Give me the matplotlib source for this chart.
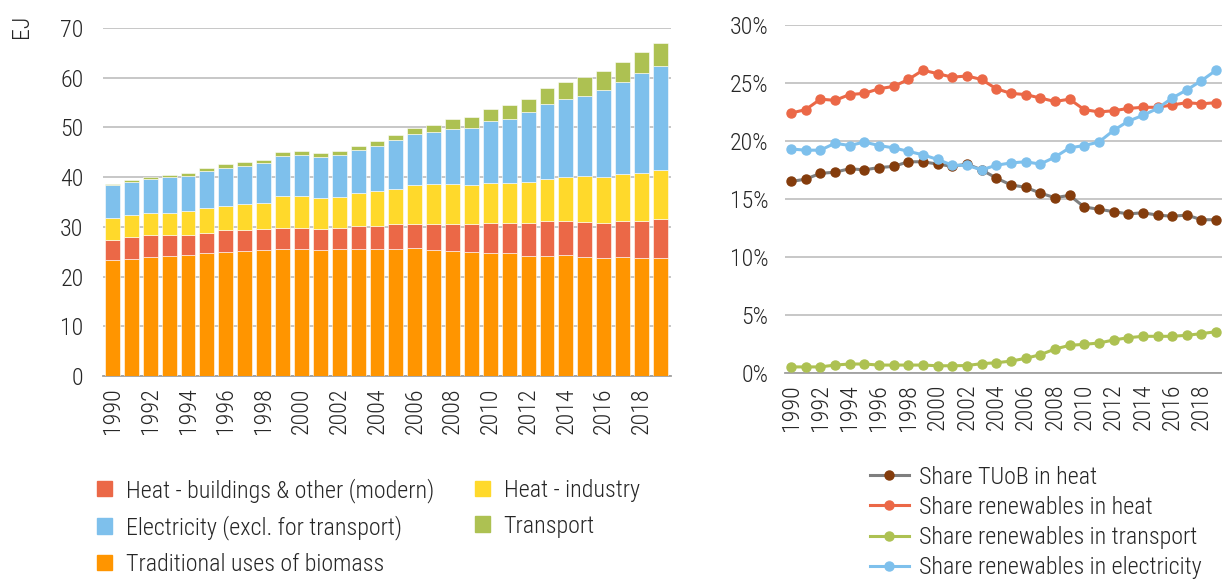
import matplotlib
matplotlib.use('Agg')
import matplotlib.pyplot as plt
from matplotlib.patches import Patch
from matplotlib.lines import Line2D
import numpy as np

plt.rcParams['font.family'] = ['Roboto Condensed', 'Liberation Sans Narrow', 'DejaVu Sans']
plt.rcParams['font.weight'] = 'light'
plt.rcParams['text.color'] = '#262626'

years = list(range(1990, 2020))

# renewable energy consumption by end use (EJ)
trad_biomass = [23.4, 23.6, 23.9, 24.2, 24.4, 24.7, 24.9, 25.1, 25.3, 25.5,
                25.5, 25.3, 25.5, 25.5, 25.5, 25.5, 25.7, 25.3, 25.1, 24.9,
                24.7, 24.7, 24.2, 24.2, 24.4, 23.9, 23.7, 23.9, 23.7, 23.7]
heat_buildings = [4.0, 4.3, 4.4, 4.1, 3.9, 4.1, 4.4, 4.2, 4.2, 4.2,
                  4.2, 4.2, 4.2, 4.7, 4.7, 5.1, 4.9, 5.3, 5.5, 5.7,
                  6.1, 6.1, 6.6, 7.0, 6.8, 7.1, 7.1, 7.3, 7.5, 7.8]
heat_industry = [4.3, 4.4, 4.5, 4.5, 4.8, 4.9, 4.9, 5.2, 5.4, 6.6,
                 6.6, 6.3, 6.4, 6.6, 7.0, 7.0, 7.8, 8.0, 8.0, 7.8,
                 8.0, 8.0, 8.2, 8.5, 8.8, 9.2, 9.2, 9.5, 9.7, 9.9]
electricity = [6.8, 6.7, 6.8, 7.2, 7.1, 7.6, 7.6, 7.8, 8.0, 7.9,
               8.2, 8.3, 8.4, 8.6, 9.1, 9.8, 10.3, 10.5, 11.1, 11.5,
               12.5, 12.9, 14.1, 15.0, 15.7, 16.1, 17.5, 18.4, 20.1, 21.0]
transport = [0.2, 0.5, 0.4, 0.5, 0.7, 0.6, 0.8, 0.8, 0.6, 0.8,
             0.7, 0.7, 0.7, 0.8, 0.9, 1.0, 1.1, 1.4, 2.0, 2.2,
             2.5, 2.8, 2.7, 3.3, 3.4, 3.8, 3.8, 4.1, 4.1, 4.5]

# renewable shares (%)
share_tuob_heat = [16.5, 16.7, 17.2, 17.3, 17.6, 17.5, 17.7, 17.8, 18.2, 18.2,
                   18.0, 17.8, 18.0, 17.5, 16.8, 16.2, 16.0, 15.5, 15.1, 15.3,
                   14.3, 14.1, 13.9, 13.7, 13.8, 13.6, 13.5, 13.6, 13.2, 13.2]
share_ren_heat = [22.4, 22.7, 23.6, 23.5, 24.0, 24.1, 24.5, 24.7, 25.3, 26.1,
                  25.8, 25.5, 25.6, 25.3, 24.5, 24.1, 24.0, 23.7, 23.4, 23.6,
                  22.7, 22.5, 22.6, 22.8, 22.9, 22.9, 23.1, 23.3, 23.2, 23.3]
share_ren_transport = [0.5, 0.5, 0.5, 0.66, 0.75, 0.75, 0.66, 0.66, 0.66, 0.66,
                       0.6, 0.6, 0.62, 0.78, 0.86, 1.0, 1.24, 1.55, 2.04, 2.36,
                       2.45, 2.56, 2.82, 3.02, 3.14, 3.14, 3.14, 3.23, 3.37, 3.54]
share_ren_elec = [19.3, 19.2, 19.2, 19.8, 19.6, 19.9, 19.6, 19.4, 19.1, 18.8,
                  18.4, 17.9, 17.9, 17.5, 17.9, 18.1, 18.2, 18.0, 18.6, 19.4,
                  19.6, 19.9, 20.9, 21.7, 22.2, 22.8, 23.7, 24.4, 25.2, 26.1]

c_orange = '#ff9500'
c_red = '#eb6847'
c_yellow = '#ffd92b'
c_blue = '#7ec0ec'
c_green = '#adc152'
c_brown = '#843c0c'
c_grey = '#7f7f7f'
grid_c = '#bdbdbd'
fs = 17.3

fig = plt.figure(figsize=(12.22, 5.8), dpi=100)

# stacked bars
ax1 = fig.add_axes([0.0843, 0.3517, 0.4646, 0.600])
x = np.arange(len(years))
stack = [(trad_biomass, c_orange), (heat_buildings, c_red), (heat_industry, c_yellow),
         (electricity, c_blue), (transport, c_green)]
bottom = np.zeros(len(years))
for vals, col in stack:
    ax1.bar(x, vals, width=0.79, bottom=bottom, color=col, edgecolor='white',
            linewidth=0.4, zorder=3)
    bottom += np.array(vals)
ax1.set_xlim(-0.5, 29.55)
ax1.set_ylim(0, 70)
ax1.set_yticks(range(0, 71, 10))
ax1.set_xticks(x[::2])
ax1.set_xticklabels([str(y) for y in years[::2]], rotation=90)
ax1.yaxis.grid(True, color=grid_c, linewidth=1.2, zorder=0)
for s in ['left', 'right', 'top']:
    ax1.spines[s].set_visible(False)
ax1.spines['bottom'].set_color('#a0a0a0')
ax1.spines['bottom'].set_linewidth(1.3)
ax1.tick_params(length=0, labelsize=fs, colors='#262626')
ax1.tick_params(axis='y', pad=14)
ax1.tick_params(axis='x', pad=8)
fig.text(0.018, 0.975, 'EJ', rotation=90, fontsize=fs, ha='center', va='top')

# share lines
ax2 = fig.add_axes([0.6424, 0.3574, 0.3576, 0.5995])
lines = [(share_tuob_heat, c_grey, c_brown, 'Share TUoB in heat'),
         (share_ren_heat, c_red, c_red, 'Share renewables in heat'),
         (share_ren_transport, c_green, c_green, 'Share renewables in transport'),
         (share_ren_elec, c_blue, c_blue, 'Share renewables in electricity')]
handles2 = []
for vals, lc, mc, lab in lines:
    ax2.plot(x, vals, color=lc, linewidth=2.2, marker='o', markersize=6.5,
             markerfacecolor=mc, markeredgecolor=mc, zorder=3)
    handles2.append(Line2D([0], [0], color=lc, linewidth=2.2, marker='o', markersize=6.5,
                           markerfacecolor=mc, markeredgecolor=mc, label=lab))
ax2.set_xlim(-0.41, 29.4)
ax2.set_ylim(0, 30)
ax2.set_yticks(range(0, 31, 5))
ax2.set_yticklabels([f'{v}%' for v in range(0, 31, 5)])
ax2.set_xticks(x[::2])
ax2.set_xticklabels([str(y) for y in years[::2]], rotation=90)
ax2.yaxis.grid(True, color=grid_c, linewidth=1.2, zorder=0)
for s in ['left', 'right', 'top']:
    ax2.spines[s].set_visible(False)
ax2.spines['bottom'].set_color('#a0a0a0')
ax2.spines['bottom'].set_linewidth(1.3)
ax2.tick_params(length=0, labelsize=fs, colors='#262626')
ax2.tick_params(axis='y', pad=12)
ax2.tick_params(axis='x', pad=8)

# legends
handles1 = [Patch(color=c_red, label='Heat - buildings & other (modern)'),
            Patch(color=c_blue, label='Electricity (excl. for transport)'),
            Patch(color=c_orange, label='Traditional uses of biomass'),
            Patch(color=c_yellow, label='Heat - industry'),
            Patch(color=c_green, label='Transport')]
fig.legend(handles=handles1, loc='upper left', bbox_to_anchor=(0.0695, 0.197),
           ncol=2, frameon=False, fontsize=fs, handlelength=0.62, handleheight=0.62,
           handletextpad=0.58, columnspacing=1.7, labelspacing=0.53, borderpad=0)
fig.legend(handles=handles2, loc='upper left', bbox_to_anchor=(0.702, 0.218),
           frameon=False, fontsize=fs, handlelength=1.62, handletextpad=0.42,
           labelspacing=0.30, borderpad=0)

fig.savefig('out.png', dpi=100)
